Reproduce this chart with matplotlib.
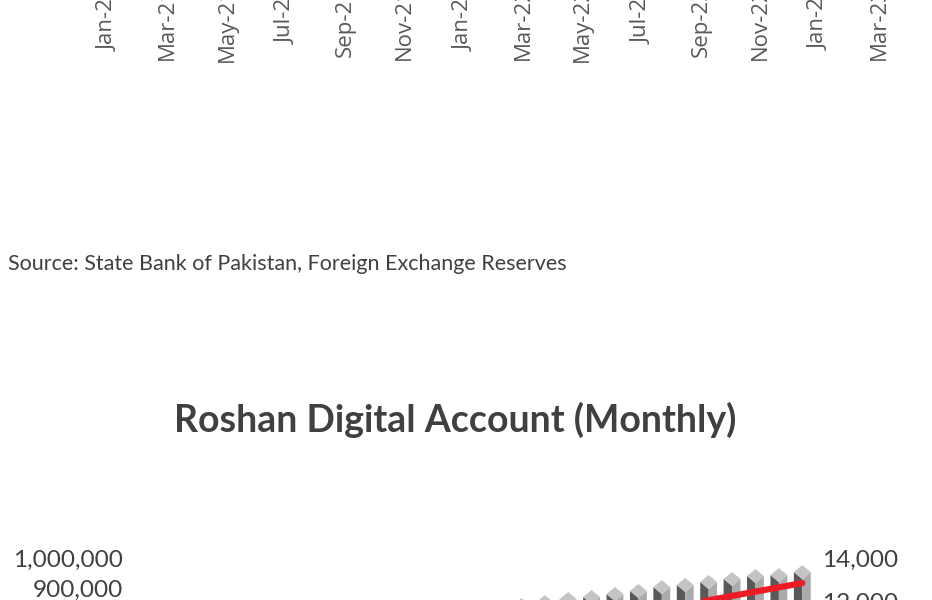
import matplotlib
matplotlib.use('Agg')
import matplotlib.pyplot as plt
from matplotlib.ticker import FuncFormatter, MultipleLocator

# upper chart (foreign exchange reserves) - only its month labels are in view
reserve_ticks = ['Jan-21', 'Mar-21', 'May-21', 'Jul-21', 'Sep-21', 'Nov-21',
                 'Jan-22', 'Mar-22', 'May-22', 'Jul-22', 'Sep-22', 'Nov-22',
                 'Jan-23', 'Mar-23']

# lower chart: Roshan Digital Account, monthly
rda_accounts = [680000, 690000, 700000, 711000, 721000, 731000, 741000, 752000,
                762000, 772000, 782000, 792000, 802000, 812000, 822000, 832000,
                843000, 853000, 863000, 870000, 880000, 890000, 903000, 910000,
                920000, 930000, 940000, 943000, 953000]
rda_inflows = [7230, 7430, 7630, 7830, 8030, 8230, 8430, 8630, 8830, 9030,
               9230, 9430, 9630, 9830, 10030, 10230, 10430, 10630, 10830,
               11030, 11230, 11430, 11630, 11830, 12030, 12230, 12430, 12630,
               12830]

W, H = 932, 600
TXT = '#404040'


def px_box(left, top, right, bottom):
    return [left / W, 1 - bottom / H, (right - left) / W, (bottom - top) / H]


fig = plt.figure(figsize=(W / 100, H / 100), dpi=100)
fig.patch.set_facecolor('white')

# --- upper chart: axis sits above the page, labels hang into view
ax0 = fig.add_axes(px_box(108.5, -300, 879, -19.6))
ax0.set_xlim(0, 2 * (len(reserve_ticks) - 1))
ax0.set_xticks(range(0, 2 * len(reserve_ticks), 2))
ax0.set_xticklabels(reserve_ticks, rotation=90, fontfamily='Open Sans',
                    fontsize=16, color='#595959')
ax0.tick_params(axis='x', length=0, pad=4)
ax0.set_yticks([])
for s in ax0.spines.values():
    s.set_visible(False)
ax0.patch.set_alpha(0)

fig.text(8 / W, 1 - 270 / H, 'Source: State Bank of Pakistan, Foreign Exchange Reserves',
         fontfamily='Lato', fontsize=15.5, color=TXT, va='baseline')

fig.text(455 / W, 1 - 432 / H, 'Roshan Digital Account (Monthly)',
         fontfamily='Lato', fontweight='bold', fontsize=27, color=TXT,
         ha='center', va='baseline')

# --- lower chart
ax = fig.add_axes(px_box(135, 558, 814, 858))
n = len(rda_accounts)
ax.set_xlim(-0.5, n - 0.5)
ax.set_ylim(0, 1000000)
ax.yaxis.set_major_locator(MultipleLocator(100000))
ax.yaxis.set_major_formatter(FuncFormatter(lambda v, p: f'{int(v):,}'))
ax.set_xticks([])
ax.tick_params(axis='y', length=0, pad=9, labelsize=17.6, labelcolor=TXT)
for lab in ax.get_yticklabels():
    lab.set_fontfamily('Lato')
for s in ax.spines.values():
    s.set_visible(False)

# pseudo 3D columns
w = 0.36
d = 7 * 1000000 / 300  # half height of the cap, 7 px
for i, v in enumerate(rda_accounts):
    ax.fill([i - w, i - w, i, i], [0, v, v - d, 0], color='#595959', lw=0)
    ax.fill([i, i, i + w, i + w], [0, v - d, v, 0], color='#ababab', lw=0)
    ax.fill([i - w, i, i + w, i], [v, v + d, v, v - d], color='#c4c4c4', lw=0)

ax2 = ax.twinx()
ax2.set_ylim(0, 14000)
ax2.yaxis.set_major_locator(MultipleLocator(2000))
ax2.yaxis.set_major_formatter(FuncFormatter(lambda v, p: f'{int(v):,}'))
ax2.tick_params(axis='y', length=0, pad=6, labelsize=17.6, labelcolor=TXT)
for lab in ax2.get_yticklabels():
    lab.set_fontfamily('Lato')
for s in ax2.spines.values():
    s.set_visible(False)
ax2.plot(range(n), rda_inflows, color='#ed1c24', lw=4.5, solid_capstyle='round')

fig.savefig('out.png', dpi=100)
